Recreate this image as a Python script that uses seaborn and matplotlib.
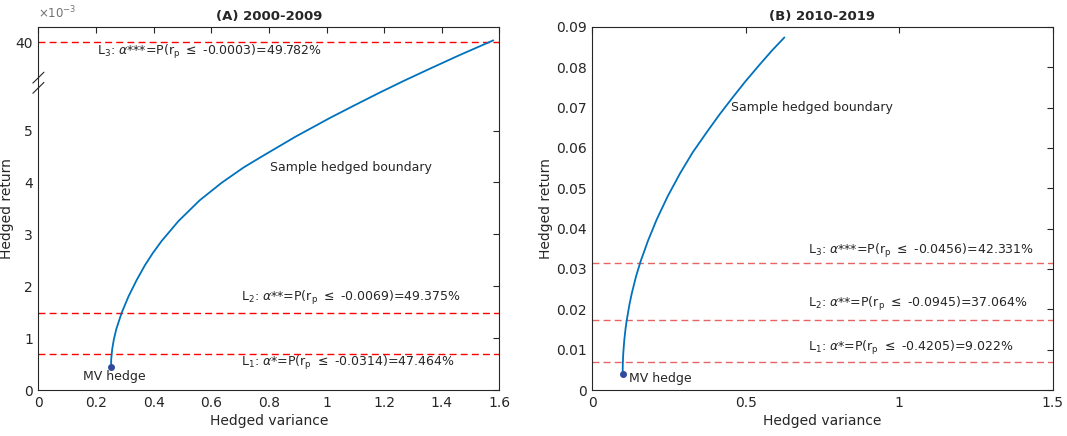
import numpy as np
import pandas as pd
import seaborn as sns
import matplotlib
matplotlib.use("Agg")
import matplotlib.pyplot as plt

# Panel A: hedged boundary (y in 1e-3 display units,
# the axis is broken above 6 and the top tick is relabelled "40")
var_a = [0.252, 0.2528, 0.2561, 0.262, 0.2706, 0.289, 0.313, 0.3415, 0.370, 0.398,
         0.428, 0.486, 0.560, 0.636, 0.712, 0.775, 0.891, 1.012, 1.10, 1.185,
         1.27, 1.359, 1.46, 1.579]
ret_a = [0.449, 0.599, 0.788, 0.979, 1.179, 1.488, 1.807, 2.124, 2.407, 2.646,
         2.874, 3.255, 3.657, 3.994, 4.288, 4.499, 4.878, 5.244, 5.495, 5.733,
         5.963, 6.193, 6.450, 6.739]
mv_a = (0.252, 0.449)
lines_a = [0.688, 1.478, 6.70]
labels_a = [r"L$_1$: $\alpha$*=P(r$_{\rm p}$ $\leq$ -0.0314)=47.464%",
            r"L$_2$: $\alpha$**=P(r$_{\rm p}$ $\leq$ -0.0069)=49.375%",
            r"L$_3$: $\alpha$***=P(r$_{\rm p}$ $\leq$ -0.0003)=49.782%"]
label_pos_a = [(0.703, 0.53), (0.703, 1.77), (0.202, 6.52)]
yticks_a = [0, 1, 2, 3, 4, 5, 6.70]
yticklabels_a = ["0", "1", "2", "3", "4", "5", "40"]
xticks_a = [0, 0.2, 0.4, 0.6, 0.8, 1, 1.2, 1.4, 1.6]

# Panel B
var_b = [0.0993, 0.0996, 0.1002, 0.1012, 0.1042, 0.1085, 0.112, 0.1212, 0.129, 0.143,
         0.158, 0.182, 0.210, 0.246, 0.286, 0.327, 0.373, 0.415, 0.460, 0.500,
         0.547, 0.586, 0.626]
ret_b = [0.00396, 0.00597, 0.00744, 0.00902, 0.01208, 0.01509, 0.01703, 0.02113, 0.02395, 0.02821,
         0.03194, 0.03703, 0.04223, 0.04801, 0.05365, 0.05884, 0.06386, 0.0683, 0.07273, 0.07656,
         0.08077, 0.08415, 0.08736]
mv_b = (0.0993, 0.00396)
lines_b = [0.00694, 0.01742, 0.03146]
labels_b = [r"L$_1$: $\alpha$*=P(r$_{\rm p}$ $\leq$ -0.4205)=9.022%",
            r"L$_2$: $\alpha$**=P(r$_{\rm p}$ $\leq$ -0.0945)=37.064%",
            r"L$_3$: $\alpha$***=P(r$_{\rm p}$ $\leq$ -0.0456)=42.331%"]
label_pos_b = [(0.702, 0.0103), (0.702, 0.0213), (0.702, 0.0345)]
yticks_b = [0, 0.01, 0.02, 0.03, 0.04, 0.05, 0.06, 0.07, 0.08, 0.09]
xticks_b = [0, 0.5, 1, 1.5]

sns.set_style("white")
plt.rcParams['font.family'] = ['DejaVu Sans']
plt.rcParams['mathtext.fontset'] = 'dejavusans'

GREY = "#262626"
BLUE = "#0072BD"
FS = 9

fig = plt.figure(figsize=(10.67, 4.36), dpi=100)
ax1 = fig.add_axes([0.036, 0.1055, 0.432, 0.833])
ax2 = fig.add_axes([0.555, 0.1055, 0.4316, 0.833])


def style_axes(ax):
    for s in ax.spines.values():
        s.set_color(GREY)
        s.set_linewidth(0.8)
    ax.tick_params(direction="in", length=4, width=0.8, colors=GREY,
                   labelsize=10, top=True, right=True, pad=4)
    for t in ax.get_xticklabels() + ax.get_yticklabels():
        t.set_color(GREY)


# ---- panel A
df_a = pd.DataFrame({"var": var_a, "ret": ret_a})
for y in lines_a:
    ax1.axhline(y, color="red", ls=(0, (5, 3)), lw=1)
sns.lineplot(data=df_a, x="var", y="ret", ax=ax1, color=BLUE, lw=1.3)
ax1.plot([mv_a[0]], [mv_a[1]], "o", color="#2f4b9c", ms=4)
ax1.set_xlim(0, 1.6)
ax1.set_ylim(0, 7.0)
ax1.set_xticks(xticks_a)
ax1.set_xticklabels(["0", "0.2", "0.4", "0.6", "0.8", "1", "1.2", "1.4", "1.6"])
ax1.set_yticks(yticks_a)
ax1.set_yticklabels(yticklabels_a)
style_axes(ax1)
ax1.set_xlabel("Hedged variance", fontsize=10, color=GREY, labelpad=3)
ax1.set_ylabel("Hedged return", fontsize=10, color=GREY, labelpad=1)
ax1.set_title("(A) 2000-2009", fontsize=9.5, fontweight="bold", color=GREY, pad=5)
ax1.text(0.0, 1.015, r"$\times10^{-3}$", transform=ax1.transAxes, fontsize=8.5,
         color="#707070", ha="left", va="bottom")
for (x, y), lab in zip(label_pos_a, labels_a):
    ax1.text(x, y, lab, fontsize=FS, color=GREY, va="center")
ax1.text(0.262, 0.256, "MV hedge", fontsize=FS, color=GREY, ha="center", va="center")
ax1.text(0.804, 4.28, "Sample hedged boundary", fontsize=FS, color=GREY, va="center")
# axis break marks
for dy in (0.0, -0.028):
    ax1.plot([-0.012, 0.012], [0.845 + dy, 0.875 + dy], transform=ax1.transAxes,
             color=GREY, lw=0.8, clip_on=False)

# ---- panel B
df_b = pd.DataFrame({"var": var_b, "ret": ret_b})
for y in lines_b:
    ax2.axhline(y, color="#e03030", ls=(0, (5, 3)), lw=1, alpha=0.75)
sns.lineplot(data=df_b, x="var", y="ret", ax=ax2, color=BLUE, lw=1.3)
ax2.plot([mv_b[0]], [mv_b[1]], "o", color="#2f4b9c", ms=4)
ax2.set_xlim(0, 1.5)
ax2.set_ylim(0, 0.09)
ax2.set_xticks(xticks_b)
ax2.set_xticklabels(["0", "0.5", "1", "1.5"])
ax2.set_yticks(yticks_b)
ax2.set_yticklabels(["0"] + ["%.2f" % v for v in yticks_b[1:]])
style_axes(ax2)
ax2.set_xlabel("Hedged variance", fontsize=10, color=GREY, labelpad=3)
ax2.set_ylabel("Hedged return", fontsize=10, color=GREY, labelpad=2)
ax2.set_title("(B) 2010-2019", fontsize=9.5, fontweight="bold", color=GREY, pad=5)
for (x, y), lab in zip(label_pos_b, labels_b):
    ax2.text(x, y, lab, fontsize=FS, color=GREY, va="center")
ax2.text(0.12, 0.0029, "MV hedge", fontsize=FS, color=GREY, va="center")
ax2.text(0.451, 0.070, "Sample hedged boundary", fontsize=FS, color=GREY, va="center")

fig.savefig("out.png", dpi=100)
